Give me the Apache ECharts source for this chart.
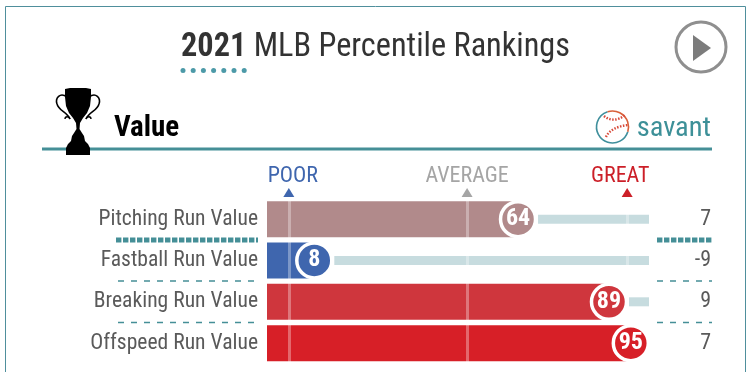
<!DOCTYPE html>
<html>
<head>
<meta charset="utf-8">
<style>
  html, body { margin: 0; background: #fff; }
  #main { width: 748px; height: 372px; }
</style>
<script src="https://cdn.jsdelivr.net/npm/echarts@6/dist/echarts.min.js"></script>
</head>
<body>
<div id="main"></div>
<script>
// data
const metrics = ['Pitching Run Value', 'Fastball Run Value', 'Breaking Run Value', 'Offspeed Run Value']
const percentiles = [64, 8, 89, 95]
const runValues = ['7', '-9', '9', '7']
const barColors = ['#b18a8b', '#3f66ae', '#cf363d', '#d71f27']
const refValues = [1, 50, 94]
const refLabels = ['POOR', 'AVERAGE', 'GREAT']
const refColors = ['#3f66ae', '#a5a5a5', '#cc1f28']
const refLabelShift = [4, 0, -7]

const narrow = '"Roboto Condensed", "Liberation Sans Narrow", Roboto, sans-serif'
const teal = '#458f97'
const trackEnd = 100
const barStart = -5

const chart = echarts.init(document.getElementById('main'), null, { renderer: 'canvas' })

// bar and track rows share this, only the x range and height differ
function rowRect(api, from, to, height, color) {
  const a = api.coord([from, api.value(1)])
  const b = api.coord([to, api.value(1)])
  return {
    type: 'rect',
    shape: { x: a[0], y: a[1] - height / 2, width: b[0] - a[0], height: height },
    style: { fill: color }
  }
}

// separators between the rows
function sepLine(x1, x2, y, width, dash) {
  return {
    type: 'line',
    shape: { x1: x1, y1: y, x2: x2, y2: y },
    style: { stroke: teal, lineWidth: width, lineDash: dash }
  }
}

// curved stroke for the logos
function curve(x1, y1, cx1, cy1, cx2, cy2, x2, y2, color, width, dash) {
  return {
    type: 'bezierCurve',
    shape: { x1: x1, y1: y1, cpx1: cx1, cpy1: cy1, cpx2: cx2, cpy2: cy2, x2: x2, y2: y2 },
    style: { fill: 'none', stroke: color, lineWidth: width, lineDash: dash }
  }
}

const trophyBody = [
  [65, 89], [70, 88], [86, 88], [91, 89], [91, 97], [90, 106], [87, 113], [83, 118], [80, 123],
  [79.5, 129], [82, 133], [84, 136], [85, 141], [88, 144], [90, 148], [90, 155],
  [66, 155], [66, 148], [68, 144], [71, 141], [72, 136], [74, 133], [76.5, 129], [76, 123],
  [73, 118], [69, 113], [66, 106], [65, 97]
]

const option = {
  animation: false,
  title: {
    left: 176,
    top: 27,
    text: '{b|2021} MLB Percentile Rankings',
    textStyle: {
      rich: {
        b: { fontFamily: narrow, fontSize: 32.3, fontWeight: 'bold', color: '#333' }
      },
      fontFamily: narrow,
      fontSize: 32.3,
      fontWeight: 'normal',
      color: '#333'
    }
  },
  grid: { left: 267, width: 382, top: 198.5, height: 165.3 },
  xAxis: {
    type: 'value',
    position: 'top',
    min: barStart,
    max: trackEnd,
    splitLine: { show: false },
    axisLine: { show: false },
    axisTick: { show: false },
    axisLabel: { show: false }
  },
  yAxis: [
    {
      type: 'category',
      inverse: true,
      data: metrics,
      axisLine: { show: false },
      axisTick: { show: false },
      axisLabel: { margin: 9, fontFamily: narrow, fontSize: 21.6, color: '#5a5a5a' }
    },
    {
      type: 'category',
      inverse: true,
      position: 'right',
      data: runValues,
      axisLine: { show: false },
      axisTick: { show: false },
      axisLabel: { margin: 62, align: 'right', fontFamily: narrow, fontSize: 22, color: '#5a5a5a' }
    }
  ],
  series: [
    {
      // track right of the ball
      type: 'custom',
      z: 2,
      data: percentiles.map((p, i) => [p, i]),
      renderItem: (params, api) => {
        const p = api.value(0)
        if (p + 5.5 >= trackEnd) return null
        return rowRect(api, p + 5.5, trackEnd, 9, '#c7dcdf')
      }
    },
    {
      // percentile bars
      type: 'custom',
      z: 3,
      data: percentiles.map((p, i) => [p, i]),
      renderItem: (params, api) => rowRect(api, barStart, api.value(0), 36, barColors[params.dataIndex]),
      markLine: {
        silent: true,
        symbol: 'none',
        label: { show: false },
        lineStyle: { color: 'rgba(255,255,255,0.32)', width: 3, type: 'solid' },
        data: refValues.map((v) => ({ xAxis: v }))
      },
      markPoint: {
        silent: true,
        symbol: 'triangle',
        symbolSize: [11, 9],
        data: refValues.map((v, i) => ({
          xAxis: v,
          y: 192.5,
          itemStyle: { color: refColors[i] },
          label: {
            show: true,
            position: 'top',
            distance: 1,
            offset: [refLabelShift[i], 0],
            formatter: refLabels[i],
            color: refColors[i],
            fontFamily: narrow,
            fontSize: 22
          }
        }))
      }
    },
    {
      // ball with the percentile
      type: 'scatter',
      z: 5,
      symbolSize: 35,
      data: percentiles.map((p, i) => ({
        value: [p, i],
        itemStyle: { color: barColors[i], borderColor: '#fff', borderWidth: 3.5, opacity: 1 }
      })),
      label: {
        show: true,
        position: 'inside',
        formatter: (p) => p.value[0],
        color: '#fff',
        fontFamily: narrow,
        fontWeight: 'bold',
        fontSize: 24
      }
    }
  ],
  graphic: [
    // frame
    { type: 'rect', silent: true, shape: { x: 5.5, y: 6.5, width: 740, height: 420 }, style: { fill: 'none', stroke: '#4f8f9c', lineWidth: 1 } },
    // title dots
    ...[0, 1, 2, 3, 4, 5, 6].map((i) => ({
      type: 'circle', shape: { cx: 183 + i * 10.2, cy: 70.5, r: 2.5 }, style: { fill: '#4c9aa8' }
    })),
    // play button
    { type: 'circle', shape: { cx: 701, cy: 47, r: 25 }, style: { fill: 'none', stroke: '#8f8f8f', lineWidth: 3 } },
    { type: 'polygon', shape: { points: [[693, 35], [711, 48], [693, 61]] }, style: { fill: '#7c7c7c' } },
    // section header
    { type: 'line', shape: { x1: 42, y1: 149, x2: 712, y2: 149 }, style: { stroke: teal, lineWidth: 3 } },
    { type: 'polygon', shape: { points: trophyBody }, style: { fill: '#000' } },
    curve(67, 97, 60, 92, 55, 98, 57, 104, '#000', 1.6),
    curve(57, 104, 59, 111, 67, 112, 70, 119, '#000', 1.6),
    curve(89, 97, 96, 92, 101, 98, 99, 104, '#000', 1.6),
    curve(99, 104, 97, 111, 89, 112, 86, 119, '#000', 1.6),
    curve(65, 119, 65, 116, 69, 116, 70, 119, '#000', 1.4),
    curve(91, 119, 91, 116, 87, 116, 86, 119, '#000', 1.4),
    { type: 'text', style: { x: 114, y: 129, text: 'Value', fill: '#000', font: 'bold 29px ' + narrow, verticalAlign: 'middle' } },
    { type: 'text', style: { x: 711, y: 129, text: 'savant', fill: '#3d9098', font: '28.5px ' + narrow, align: 'right', verticalAlign: 'middle' } },
    // baseball logo
    { type: 'arc', shape: { cx: 612.5, cy: 127, r: 16, startAngle: 0.3, endAngle: 4.4 }, style: { fill: 'none', stroke: '#3f8f9c', lineWidth: 1.6 } },
    { type: 'arc', shape: { cx: 612.5, cy: 127, r: 16, startAngle: 4.4, endAngle: 6.58 }, style: { fill: 'none', stroke: '#d8603a', lineWidth: 1.6 } },
    curve(604, 116, 610, 121, 618, 121, 625, 115, '#d84a3a', 2.4, [1.5, 1.5]),
    curve(606, 137, 609, 130, 618, 126, 628, 125, '#d84a3a', 2.4, [1.5, 1.5]),
    // row separators
    sepLine(116, 258, 240, 5, [5.4, 1.6]),
    sepLine(657, 712, 240, 5, [5.4, 1.6]),
    sepLine(118, 258, 281, 1.5, [6, 7]),
    sepLine(657, 712, 281, 1.5, [6, 7]),
    sepLine(118, 258, 322.5, 1.5, [6, 7]),
    sepLine(657, 712, 322.5, 1.5, [6, 7])
  ]
}

chart.setOption(option)
</script>
</body>
</html>
